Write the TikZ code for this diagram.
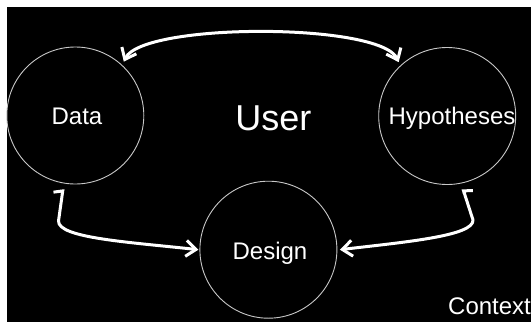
\documentclass[tikz,border=0pt]{standalone}
\usepackage{fontspec}
\setmainfont{Liberation Sans}
\usetikzlibrary{arrows.meta,calc}
\definecolor{ringc}{RGB}{200,200,200}
\tikzset{
  myvee/.tip={Straight Barb[length=10pt,width=16pt]},
  harpL/.tip={Straight Barb[left,length=2.5pt,width=18pt]},
  harpR/.tip={Straight Barb[right,length=2.5pt,width=18pt]},
}
\begin{document}
\begin{tikzpicture}[x=1pt,y=-1pt,
  ring/.style={circle, draw=ringc, line width=0.9pt, minimum size=137pt, inner sep=0pt},
  lbl/.style={text=white, font=\fontsize{24}{28}\selectfont, anchor=base, inner sep=0pt},
  flow/.style={draw=white, line width=3pt, line cap=round, line join=round}]
\useasboundingbox (0,0) rectangle (531,322);
\fill[white] (0,0) rectangle (531,322);
\fill[black] (6.8,7.3) rectangle (531,322);
\node[ring] (data) at (75.3,115.5) {};
\node[ring] (hyp) at (447.2,116) {};
\node[ring] (design) at (268.4,249.7) {};
\node[lbl] (tdata) at (77,124.5) {Data};
\node[lbl, font=\fontsize{36}{40}\selectfont] (tuser) at (273.4,130.5) {User};
\node[lbl] (thyp) at (452,124.5) {Hypotheses};
\node[lbl] (tdesign) at (270,259) {Design};
\node[lbl, anchor=base west] (tctx) at (448,314) {Context};
\draw[flow, {myvee}-{myvee}] ($(data.center)+(-48:72.5)$) .. controls (142.3,22.4) and (380.7,22.4) .. ($(hyp.center)+(-132:72.5)$);
\draw[flow, {harpL}-{myvee}] ($(data.center)+(99.5:74.5)$) -- (58.5,221) .. controls (58,238) and (128,242) .. ($(design.center)+(180:70)$);
\draw[flow, {harpR}-{myvee}] ($(hyp.center)+(77.8:74.7)$) -- (473,220) .. controls (474,236) and (405,242) .. ($(design.center)+(0:71.5)$);
\end{tikzpicture}
\end{document}
